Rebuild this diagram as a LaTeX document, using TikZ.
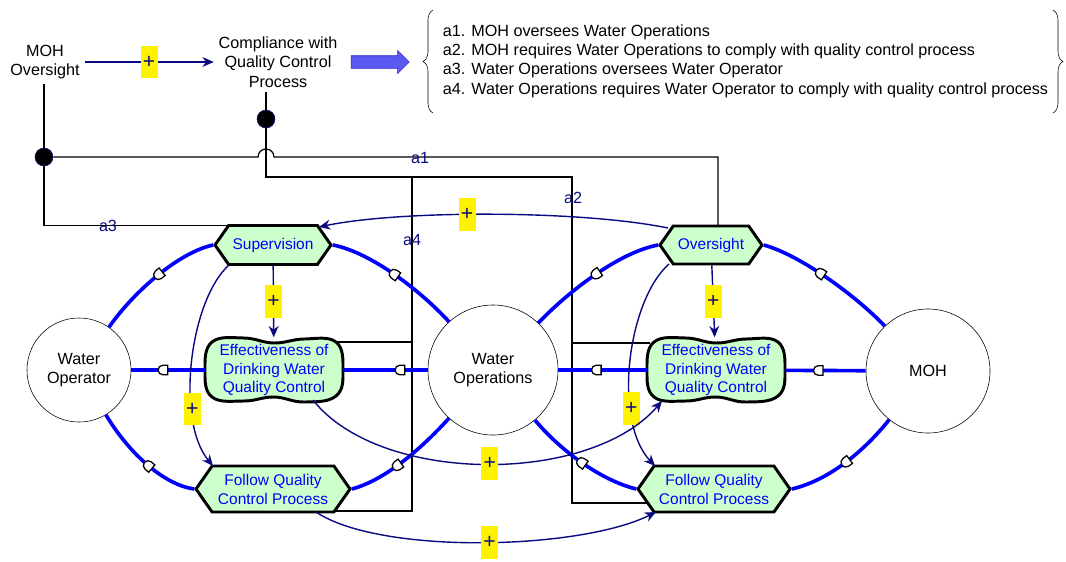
\documentclass[tikz,border=0pt]{standalone}
\usepackage{fontspec}
\setmainfont{Liberation Sans}
\usepackage{tikz}
\usetikzlibrary{shapes.symbols,shapes.misc,shapes.arrows,arrows.meta,calc,backgrounds,decorations.pathreplacing}
\definecolor{cldnavy}{RGB}{10,10,128}
\definecolor{cldblue}{RGB}{0,0,255}
\definecolor{cldgreen}{RGB}{204,255,204}
\definecolor{cldarrow}{RGB}{90,90,240}
\definecolor{cldarrowline}{RGB}{40,40,200}

\begin{document}
\begin{tikzpicture}[
    x=0.025cm, y=-0.025cm,
    font=\fontsize{11.5}{13.7}\selectfont,
    actor/.style={circle, draw, thin, inner sep=0pt, align=center},
    hexnode/.style={signal, signal to=west and east, signal pointer angle=110, draw, line width=2.1pt, fill=cldgreen, text=cldblue, align=center, inner sep=1pt, font=\fontsize{11}{13.5}\selectfont},
    blobnode/.style={minimum width=3.45cm, minimum height=1.625cm, text=cldblue, align=center, inner sep=0pt, font=\fontsize{11}{13.5}\selectfont},
    blobline/.style={draw, line width=2.1pt, fill=cldgreen},
    link/.style={cldblue, line width=2.6pt},
    infl/.style={cldnavy, line width=1pt, -{Stealth[length=8pt, width=7pt]}},
    ctrl/.style={black, line width=0.9pt},
    plus/.style={fill=yellow, text=cldnavy, minimum width=0.42cm, minimum height=0.82cm, inner sep=0pt, font=\fontsize{15}{15}\selectfont},
    dmark/.style={rounded rectangle, rounded rectangle right arc=none, draw=black, fill=white, line width=0.9pt, minimum width=0.22cm, minimum height=0.24cm, inner sep=0pt, sloped},
    dot/.style={circle, fill=black, draw=cldnavy, minimum size=0.45cm, inner sep=0pt},
    lbl/.style={text=cldnavy, inner sep=1pt},
    qarrow/.style={single arrow, draw=cldarrowline, fill=cldarrow, minimum height=1.45cm, inner xsep=0pt, inner ysep=0.15cm, single arrow head extend=0.13cm}
]
\useasboundingbox (0,0) rectangle (1066,561);

% Header
\node[align=center] (mohov) at (45,62) {MOH\\Oversight};
\node[align=center] (comp) at (278,62) {Compliance with\\Quality Control\\Process};
\node[qarrow] (bigarr) at (377,62) {};
\node[anchor=west, align=left] (notes) at (438,61) {a1. MOH oversees Water Operations\\a2. MOH requires Water Operations to comply with quality control process\\a3. Water Operations oversees Water Operator\\a4. Water Operations requires Water Operator to comply with quality control process};
\draw[decorate, decoration={brace, amplitude=0.25cm}] (433,113) -- (433,10);
\draw[decorate, decoration={brace, amplitude=0.25cm}] (1053,10) -- (1053,113);

% Actors
\node[actor, minimum size=2.6cm] (wop) at (79,370) {Water\\Operator};
\node[actor, minimum size=3.25cm] (wops) at (493,370) {Water\\Operations};
\node[actor, minimum size=3.1cm] (moh) at (928,371) {MOH};

% Left loop
\node[hexnode, minimum width=2.9cm, minimum height=0.975cm] (sup) at (273,245) {Supervision};
\node[blobnode] (effl) at (274,370) {Effectiveness of\\Drinking Water\\Quality Control};
\node[hexnode, minimum width=3.85cm, minimum height=1.15cm] (flwl) at (273,489) {Follow Quality\\Control Process};

% Right loop
\node[hexnode, minimum width=2.55cm, minimum height=0.95cm] (ovs) at (711,245) {Oversight};
\node[blobnode] (effr) at (716,370) {Effectiveness of\\Drinking Water\\Quality Control};
\node[hexnode, minimum width=3.8cm, minimum height=1.15cm] (flwr) at (714,489) {Follow Quality\\Control Process};

\foreach \n in {effl,effr}{
  \begin{scope}[on background layer, shift={(\n.center)}]
    \draw[blobline] plot[smooth cycle, tension=0.7] coordinates {(-62,-28) (-30,-32) (0,-27) (30,-31) (62,-28) (69,0) (62,26) (30,32) (0,27) (-30,31) (-62,27) (-69,0)};
  \end{scope}
}

% Control dots
\node[dot] (dot1) at (44,157) {};
\node[dot] (dot2) at (266,119) {};
\coordinate (a2turn) at (572,177);
\coordinate (a2foot) at (572,503);
\coordinate (a2side) at (572,343);
\coordinate (a4top) at (412,177);
\coordinate (a4foot) at (412,511);
\coordinate (a4side) at (412,342);

% Lines - a1 to a4
\draw[ctrl] (dot1 |- mohov.south) -- (dot1);
\draw[ctrl] (dot1) |- ($(sup.center)+(-45,-19.5)$);
\draw[ctrl] (dot1) -- ($(dot1 -| dot2)+(-8,0)$) arc[start angle=180, end angle=0, radius=0.2cm] -| ($(ovs.center)+(7,-19)$);
\draw[ctrl] (dot2 |- comp.south) -- (dot2);
\draw[ctrl] (dot2) |- (a2turn) -- (a2foot) -- ($(flwr.center)+(-66,14)$);
\draw[ctrl] (a2side) -- ($(effr.center)+(-66,-27)$);
\draw[ctrl] (a4top) -- (a4foot) -- ($(flwl.center)+(60,22)$);
\draw[ctrl] (a4side) -- ($(effl.center)+(62,-28)$);
\node[lbl] (la1) at (420,158) {a1};
\node[lbl] (la2) at (573,198) {a2};
\node[lbl] (la3) at (108,226) {a3};
\node[lbl] (la4) at (412,240) {a4};

% Links - left
\draw[link] (wop) .. controls (135,290) and (180,252) .. (sup.west) node[dmark, pos=0.5] {};
\draw[link] (sup.east) .. controls (370,252) and (420,290) .. (wops) node[dmark, pos=0.5] {};
\draw[link] (wop) .. controls (130,455) and (165,485) .. (flwl.west) node[dmark, pos=0.5] {};
\draw[link] (flwl.east) .. controls (385,480) and (420,450) .. (wops) node[dmark, pos=0.45] {};
\draw[link] (wop) -- (effl) node[dmark, pos=0.43] {};
\draw[link] (effl) -- (wops) node[dmark, pos=0.67] {};

% Links - right
\draw[link] (wops) .. controls (570,290) and (620,252) .. (ovs.west) node[dmark, pos=0.5] {};
\draw[link] (ovs.east) .. controls (800,255) and (855,295) .. (moh) node[dmark, pos=0.45] {};
\draw[link] (wops) .. controls (560,450) and (600,480) .. (flwr.west) node[dmark, pos=0.5] {};
\draw[link] (flwr.east) .. controls (830,480) and (865,450) .. (moh) node[dmark, pos=0.5] {};
\draw[link] (wops) -- (effr) node[dmark, pos=0.43] {};
\draw[link] (effr) -- (moh) node[dmark, pos=0.41] {};

% Influences
\draw[infl] (mohov) -- (comp) node[plus, pos=0.5] {+};
\draw[infl] ($(ovs.center)+(-43,-17)$) .. controls (580,210) and (400,210) .. ($(sup.center)+(46,-18)$) node[plus, pos=0.56] {+};
\draw[infl] (sup) -- (effl) node[plus, pos=0.5] {+};
\draw[infl] (ovs) -- (effr) node[plus, pos=0.5] {+};
\draw[infl] ($(sup.center)+(-44,20)$) .. controls (190,300) and (175,420) .. ($(flwl.center)+(-60,-23)$) node[plus, pos=0.7] {+};
\draw[infl] ($(ovs.center)+(-42,19)$) .. controls (628,300) and (612,420) .. ($(flwr.center)+(-59,-23)$) node[plus, pos=0.7] {+};
\draw[infl] ($(effl.center)+(39,30)$) .. controls (380,485) and (590,485) .. ($(effr.center)+(-54,31)$) node[plus, pos=0.51] {+};
\draw[infl] ($(flwl.center)+(43,23)$) .. controls (380,555) and (580,550) .. ($(flwr.center)+(-58,23)$) node[plus, pos=0.52] {+};

\end{tikzpicture}
\end{document}
